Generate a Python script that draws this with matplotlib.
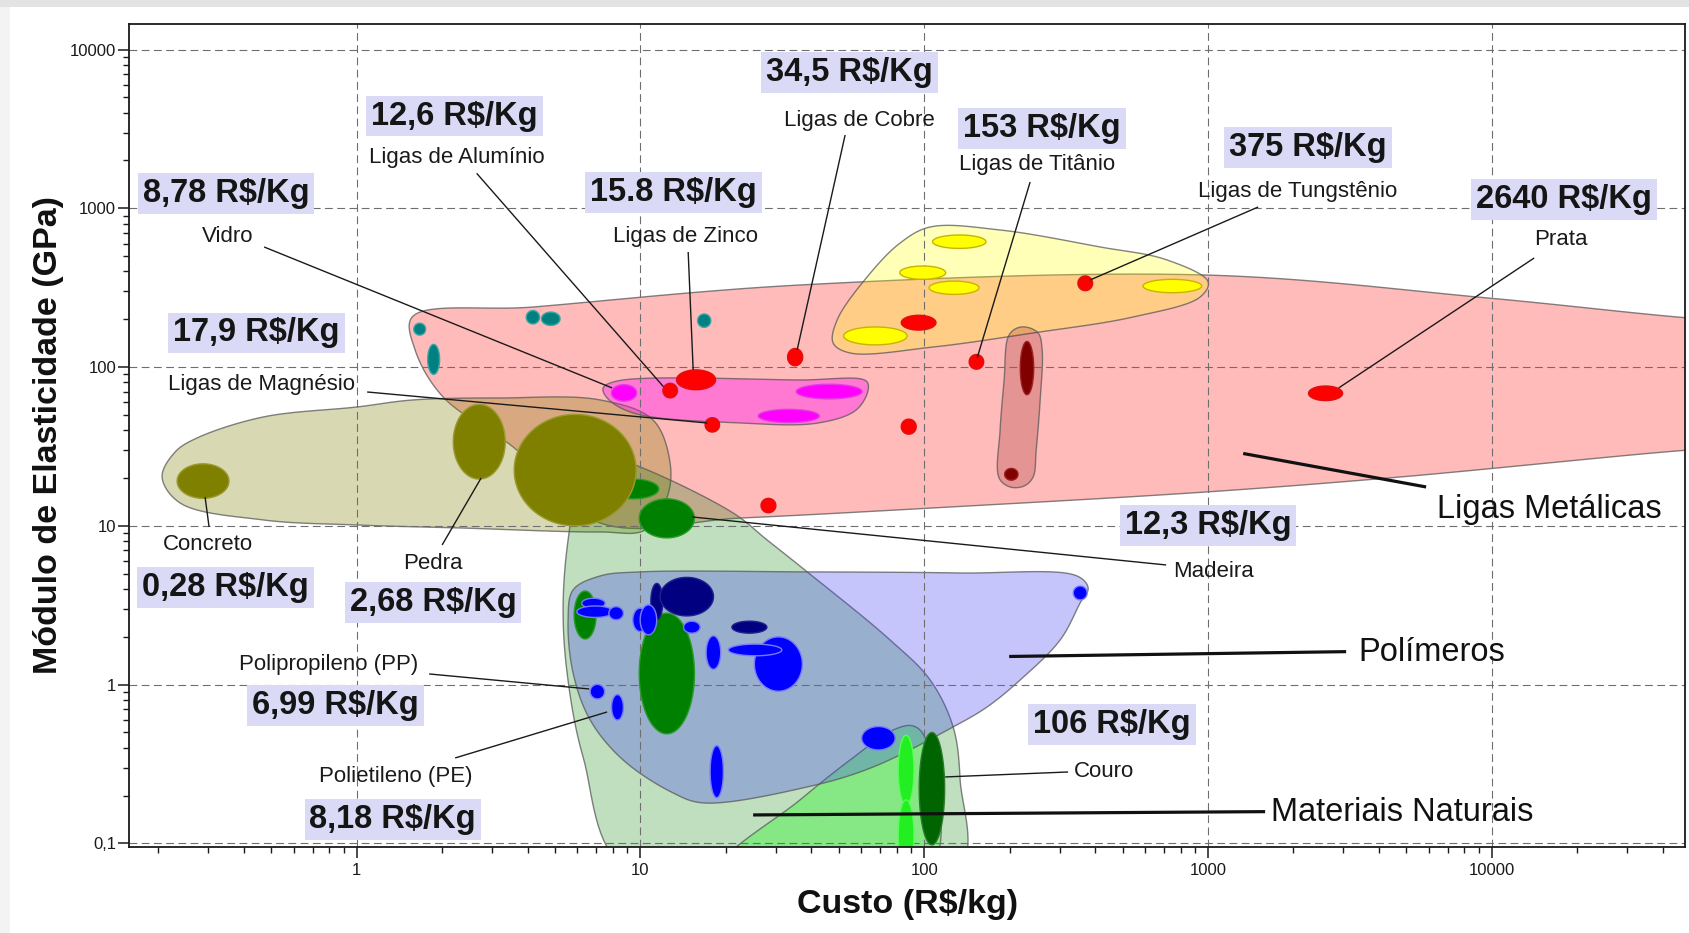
import numpy as np
import matplotlib.pyplot as plt
from matplotlib.patches import Rectangle
from matplotlib.ticker import FixedLocator, FixedFormatter, LogLocator, NullFormatter

plt.rcParams['font.family'] = ['Liberation Sans', 'DejaVu Sans']

# material bubbles: (cost lo, cost hi, modulus lo, modulus hi) -> R$/kg, GPa
teal = [(1.59, 1.75, 159, 189), (1.78, 1.96, 90, 139), (3.96, 4.41, 187, 227),
        (4.48, 5.21, 183, 222), (15.9, 17.7, 178, 216)]
red = [(13.4, 18.4, 72, 96), (12.0, 13.5, 64, 79), (16.9, 19.0, 39, 48),
       (33.0, 37.3, 102, 131), (26.6, 30.0, 12.1, 14.9), (83, 93.7, 37.8, 47),
       (144, 162, 97, 120), (83, 110, 171, 212), (348, 392, 303, 375),
       (2260, 2980, 61.5, 76)]
dark_red = [(218, 243, 67, 145), (192, 214, 19.4, 23)]
magenta = [(7.9, 9.7, 61, 77.5), (35.4, 60.4, 63, 78), (26, 42.7, 44.7, 54.2)]
yellow = [(107, 165, 559, 679), (82, 119, 357, 433), (104, 156, 287, 348),
          (52, 87, 138, 179), (590, 950, 294, 357)]
olive = [(0.233, 0.355, 14.9, 24.6), (2.19, 3.34, 19.7, 58.2), (3.59, 9.66, 10.0, 50.4)]
green = [(7.67, 11.6, 14.8, 19.7), (9.9, 15.5, 8.4, 14.8), (5.84, 6.98, 1.94, 3.89),
         (9.9, 15.5, 0.49, 2.82)]
leather = [(96, 118, 0.098, 0.50)]
lime = [(81, 92, 0.175, 0.48), (81, 92, 0.068, 0.188)]
navy = [(10.88, 11.99, 2.56, 4.34), (11.73, 18.09, 2.71, 4.74), (21.0, 27.9, 2.11, 2.51)]
blue = [(6.21, 7.51, 3.03, 3.50), (5.97, 8.03, 2.65, 3.13), (7.74, 8.71, 2.56, 3.10),
        (9.40, 10.58, 2.16, 3.03), (9.98, 11.41, 2.06, 3.18), (14.19, 16.23, 2.11, 2.51),
        (17.04, 19.18, 1.25, 2.03), (25.2, 37.2, 0.909, 2.0), (20.4, 31.5, 1.52, 1.80),
        (6.65, 7.48, 0.813, 1.004), (7.91, 8.71, 0.599, 0.866), (17.6, 19.6, 0.194, 0.413),
        (60.2, 79.0, 0.388, 0.545), (335, 375, 3.42, 4.18)]

# family envelopes, outline points (cost, modulus)
ceramic_env = [(0.2063, 20.32), (0.2293, 29.2), (0.2742, 35.8), (0.4684, 48.5), (1.004, 56.1),
               (1.581, 62.1), (3.203, 63.9), (7.21, 62.1), (11.08, 46.4), (12.72, 24.9),
               (12.42, 15.2), (10.39, 9.42), (7.21, 9.15), (2.316, 9.70), (1.004, 10.13),
               (0.4684, 10.9), (0.2387, 13.94)]
metal_env = [(1.569, 206.8), (4.19, 239), (36.5, 328.9), (984.7, 380), (9705, 272.3),
             (49570, 203.8), (88200, 192), (88200, 31.85), (49570, 30.06), (4752, 20.32),
             (984.7, 16.35), (123.4, 13.15), (22.63, 11.21), (7.21, 10.43), (3.56, 31.4),
             (2.017, 64.8), (1.607, 128.2)]
natural_env = [(7.21, 27.96), (9.97, 23.5), (21.2, 12.06), (27.95, 8.15), (38.7, 5.13),
               (75.8, 1.912), (104.9, 1.07), (126.4, 0.5417), (133.8, 0.2512), (131.7, 0.068),
               (8.98, 0.068), (6.28, 0.3505), (5.516, 1.185), (5.34, 3.085), (5.56, 8.15),
               (6.13, 19.45)]
natural_inner = [(18.9, 0.068), (36.5, 0.188), (54.8, 0.3355), (77.7, 0.5186), (91.4, 0.5494),
                 (100.7, 0.4618), (104.9, 0.068)]
polymer_env = [(5.79, 3.948), (7.21, 4.836), (9.97, 5.13), (38.7, 5.13), (133.8, 5.05),
               (345.7, 4.836), (378, 4.063), (354.2, 3.268), (301.2, 1.912), (217.7, 1.07),
               (166.6, 0.724), (126.4, 0.5417), (66.07, 0.3031), (38.7, 0.2269), (16.63, 0.18),
               (13.04, 0.208), (8.69, 0.3355), (6.65, 0.5995), (5.79, 1.185), (5.56, 2.555)]
yellow_env = [(104.9, 762.4), (185.1, 730), (416.8, 570.7), (717.7, 472.5), (1001, 343.5),
              (937.9, 276.3), (544.6, 206.8), (241.9, 164), (107.5, 133.8), (54.8, 122.7),
              (47.75, 141.8), (49.33, 198), (62.9, 369.3), (82.25, 604.6)]
magenta_env = [(7.39, 73.86), (8.28, 81.76), (36.5, 82.96), (62.4, 81.76), (63.43, 71.75),
               (57.54, 53.67), (42.28, 44.46), (22.63, 44.46), (9.43, 51.38), (7.63, 63.9)]
capsule_env = [(226.8, 178.9), (251.9, 164), (260.3, 128.2), (256.1, 62.1), (248, 30.06),
               (241.9, 20.32), (224.9, 17.84), (200.8, 17.58), (183.6, 20.03), (185.1, 40.18),
               (191.2, 82.96), (197.5, 154.7), (209.1, 173.8)]

# labels
price_text = ["8,78 R$/Kg", "12,6 R$/Kg", "17,9 R$/Kg", "15.8 R$/Kg", "34,5 R$/Kg",
              "153 R$/Kg", "375 R$/Kg", "2640 R$/Kg", "12,3 R$/Kg", "0,28 R$/Kg",
              "2,68 R$/Kg", "6,99 R$/Kg", "8,18 R$/Kg", "106 R$/Kg"]
price_xy = [(0.347, 1239), (2.215, 3813), (0.444, 164), (13.07, 1258), (54.6, 7165),
            (259.9, 3190), (2249, 2415), (17940, 1141), (1001, 10.01), (0.3455, 4.09),
            (1.86, 3.293), (0.844, 0.7364), (1.34, 0.1422), (459.3, 0.563)]
name_text = ["Vidro", "Ligas de Alumínio", "Ligas de Magnésio", "Ligas de Zinco",
             "Ligas de Cobre", "Ligas de Titânio", "Ligas de Tungstênio", "Prata",
             "Concreto", "Pedra", "Polipropileno (PP)", "Polietileno (PE)", "Madeira", "Couro"]
name_xy = [(0.350, 669), (2.26, 2104), (0.463, 77.2), (14.37, 659.6), (58.97, 3597),
           (249.9, 1874), (2077, 1267), (17550, 631.5), (0.2997, 7.58), (1.852, 5.756),
           (0.796, 1.331), (1.372, 0.2623), (1048, 5.13), (428.8, 0.2819)]
name_lines = [((0.472, 570.7), (7.95, 73.9)), ((2.648, 1661), (12.05, 75.3)),
              ((1.089, 69.7), (17.18, 44.46)), ((14.73, 530.7), (15.34, 95.9)),
              ((52.63, 2894), (35.66, 128.2)), ((236.1, 1464), (153.6, 114.1)),
              ((1502, 1019), (384.2, 353.6)), ((14100, 486.4), (2886, 73.9)),
              ((0.302, 9.84), (0.2924, 15.2)), ((2.001, 7.58), (2.746, 20.03)),
              ((1.801, 1.168), (6.597, 0.9395)), ((2.224, 0.3455), (7.63, 0.673)),
              ((15.22, 11.38), (712, 5.673)), ((118.5, 0.2623), (321.4, 0.2819))]
group_text = ["Ligas Metálicas", "Polímeros", "Materiais Naturais"]
group_xy = [(15920, 12.59), (6136, 1.583), (4846, 0.1556)]
group_lines = [((1330, 28.57), (5868, 17.58)), ((199.2, 1.505), (3066, 1.614)),
               ((24.95, 0.1512), (1589, 0.1586))]

x_ticks = [1, 10, 100, 1000, 10000]
x_ticklabels = ["1", "10", "100", "1000", "10000"]
y_ticks = [0.1, 1, 10, 100, 1000, 10000]
y_ticklabels = ["0,1", "1", "10", "100", "1000", "10000"]

ASPECT = 158.8 / 283.8  # screen size of a y decade vs an x decade


def closed_curve(pts, n=16):
    # centripetal Catmull-Rom through the outline, done in log space
    P = np.log10(np.array(pts, float))
    P[:, 1] *= ASPECT
    m = len(P)
    out = []
    for i in range(m):
        p0, p1, p2, p3 = P[i - 1], P[i], P[(i + 1) % m], P[(i + 2) % m]
        t0 = 0.0
        t1 = t0 + np.linalg.norm(p1 - p0) ** 0.5
        t2 = t1 + np.linalg.norm(p2 - p1) ** 0.5
        t3 = t2 + np.linalg.norm(p3 - p2) ** 0.5
        t = np.linspace(t1, t2, n, endpoint=False)[:, None]
        a1 = (t1 - t) / (t1 - t0) * p0 + (t - t0) / (t1 - t0) * p1
        a2 = (t2 - t) / (t2 - t1) * p1 + (t - t1) / (t2 - t1) * p2
        a3 = (t3 - t) / (t3 - t2) * p2 + (t - t2) / (t3 - t2) * p3
        b1 = (t2 - t) / (t2 - t0) * a1 + (t - t0) / (t2 - t0) * a2
        b2 = (t3 - t) / (t3 - t1) * a2 + (t - t1) / (t3 - t1) * a3
        out.append((t2 - t) / (t2 - t1) * b1 + (t - t1) / (t2 - t1) * b2)
    Q = np.vstack(out)
    Q[:, 1] /= ASPECT
    return 10 ** Q[:, 0], 10 ** Q[:, 1]


def bubble(c0, c1, e0, e1, n=72):
    cx, rx = (np.log10(c0) + np.log10(c1)) / 2, (np.log10(c1) - np.log10(c0)) / 2
    cy, ry = (np.log10(e0) + np.log10(e1)) / 2, (np.log10(e1) - np.log10(e0)) / 2
    t = np.linspace(0, 2 * np.pi, n)
    return 10 ** (cx + rx * np.cos(t)), 10 ** (cy + ry * np.sin(t))


fig = plt.figure(figsize=(16.89, 9.33), dpi=100)
fig.patches.append(Rectangle((0, 0.992), 1, 0.008, transform=fig.transFigure,
                             facecolor='#e3e3e3', edgecolor='none'))
fig.patches.append(Rectangle((0, 0), 0.006, 0.992, transform=fig.transFigure,
                             facecolor='#f3f3f3', edgecolor='none'))
ax = fig.add_axes([0.0766, 0.0925, 0.9211, 0.8821])
ax.set_xscale('log')
ax.set_yscale('log')
ax.set_xlim(0.1582, 47980)
ax.set_ylim(0.0954, 14540)

envelopes = [
    (metal_env, (1.0, 0.0, 0.0, 0.27)),
    (ceramic_env, (0.5, 0.5, 0.0, 0.30)),
    (natural_env, (0.0, 0.5, 0.0, 0.25)),
    (natural_inner, (0.0, 1.0, 0.0, 0.30)),
    (polymer_env, (0.25, 0.25, 0.95, 0.30)),
    (yellow_env, (1.0, 1.0, 0.0, 0.28)),
    (magenta_env, (1.0, 0.0, 1.0, 0.35)),
    (capsule_env, (0.5, 0.0, 0.0, 0.20)),
]
for pts, fc in envelopes:
    xs, ys = closed_curve(pts)
    ax.fill(xs, ys, facecolor=fc, edgecolor=(0.35, 0.35, 0.35, 0.75), lw=1.0, zorder=1)

groups = [
    (green, '#008000', '#2a9a2a'),
    (leather, '#006400', '#2a7a2a'),
    (lime, '#22ee22', '#55ff55'),
    (olive, '#808000', '#9a9a30'),
    (teal, '#008080', '#3aa5a5'),
    (yellow, '#ffff00', '#c8b400'),
    (magenta, '#ff00ff', '#e040e0'),
    (red, '#ff0000', '#e01010'),
    (dark_red, '#800000', '#9a2020'),
    (navy, '#000080', '#202090'),
    (blue, '#0000ff', '#7a7aff'),
]
for items, fc, ec in groups:
    for c0, c1, e0, e1 in items:
        xs, ys = bubble(c0, c1, e0, e1)
        ax.fill(xs, ys, facecolor=fc, edgecolor=ec, lw=1.0, zorder=2)

for (x0, y0), (x1, y1) in name_lines:
    ax.plot([x0, x1], [y0, y1], color='#1a1a1a', lw=1.0, zorder=4, solid_capstyle='butt')
for (x0, y0), (x1, y1) in group_lines:
    ax.plot([x0, x1], [y0, y1], color='#111111', lw=2.3, zorder=4, solid_capstyle='butt')

for s, (x, y) in zip(price_text, price_xy):
    ax.text(x, y, s, ha='center', va='center', fontsize=23.5, fontweight='bold',
            color='#151515', zorder=5,
            bbox=dict(boxstyle='square,pad=0.15', facecolor='#dadaf6', edgecolor='none'))
for s, (x, y) in zip(name_text, name_xy):
    ax.text(x, y, s, ha='center', va='center', fontsize=16, color='#1a1a1a', zorder=5)
for s, (x, y) in zip(group_text, group_xy):
    ax.text(x, y, s, ha='center', va='center', fontsize=23.5, color='#111111', zorder=5)

ax.set_axisbelow('line')
ax.grid(True, which='major', color='#6e6e6e', lw=0.8, dashes=(7, 4))
ax.xaxis.set_major_locator(FixedLocator(x_ticks))
ax.xaxis.set_major_formatter(FixedFormatter(x_ticklabels))
ax.yaxis.set_major_locator(FixedLocator(y_ticks))
ax.yaxis.set_major_formatter(FixedFormatter(y_ticklabels))
ax.xaxis.set_minor_locator(LogLocator(base=10, subs=np.arange(2, 10), numticks=20))
ax.yaxis.set_minor_locator(LogLocator(base=10, subs=np.arange(2, 10), numticks=20))
ax.xaxis.set_minor_formatter(NullFormatter())
ax.yaxis.set_minor_formatter(NullFormatter())
ax.tick_params(which='major', direction='out', length=8, width=1.1, labelsize=12,
               colors='#1a1a1a')
ax.tick_params(which='minor', direction='out', length=4.5, width=1.0, colors='#1a1a1a')
ax.tick_params(axis='x', which='major', pad=4)
ax.tick_params(axis='y', which='major', pad=1.5)
for sp in ax.spines.values():
    sp.set_linewidth(1.3)
    sp.set_color('#1a1a1a')

ax.set_xlabel('Custo (R$/kg)', fontsize=24.5, fontweight='bold', color='#111111')
ax.set_ylabel('Módulo de Elasticidade (GPa)', fontsize=24.5, fontweight='bold', color='#111111')
ax.xaxis.set_label_coords(0.5, -0.052)
ax.yaxis.set_label_coords(-0.042, 0.5)

fig.savefig('out.png', dpi=100, facecolor='white')
